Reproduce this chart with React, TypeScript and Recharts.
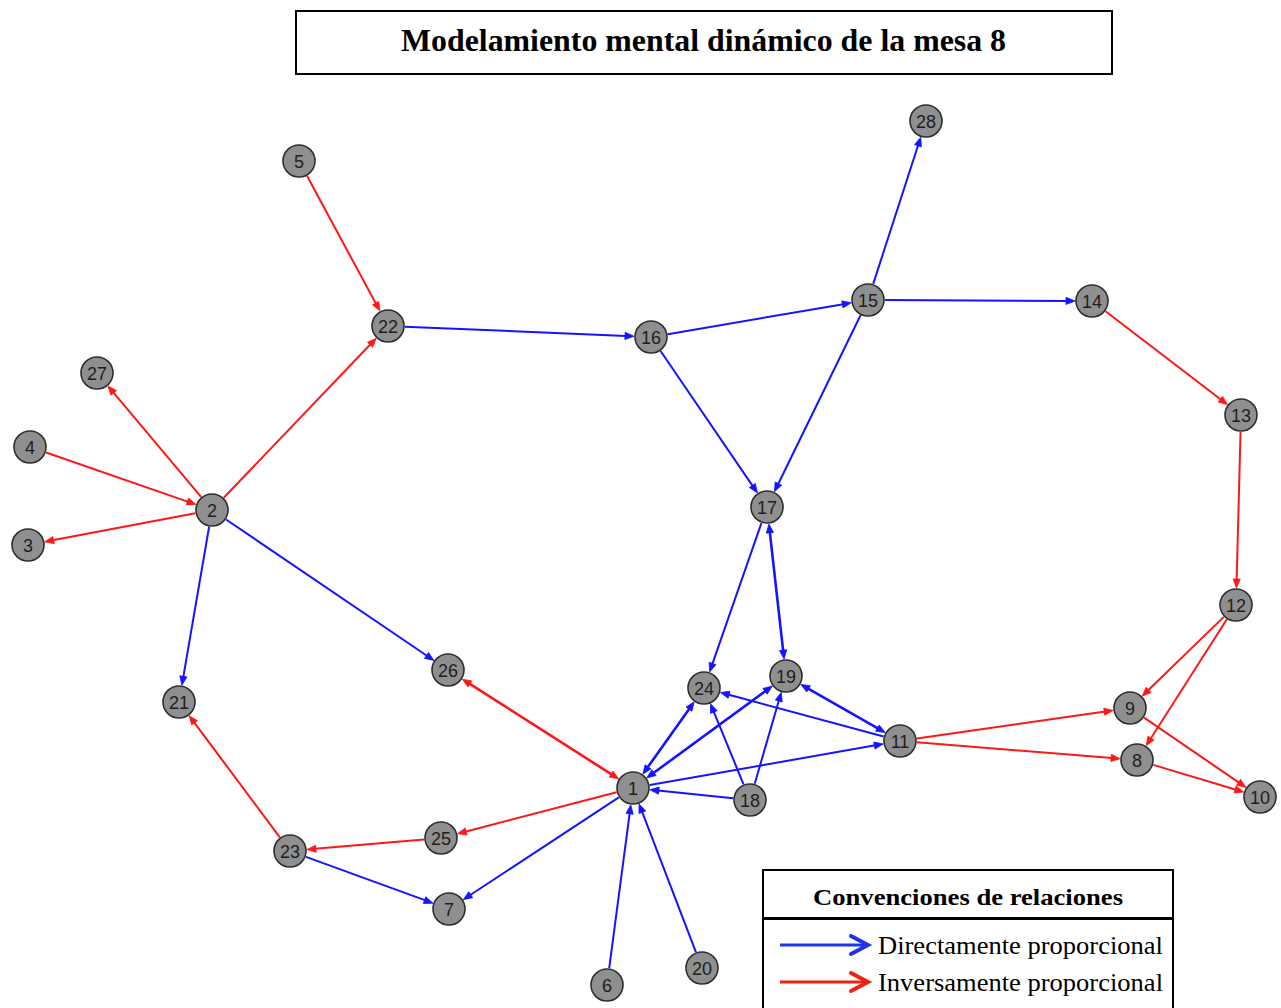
import React from 'react';
import { ScatterChart, Scatter, XAxis, YAxis, ReferenceLine } from 'recharts';

// Node identifiers and their positions (page pixel coordinates)
const nodeIds = ['1', '2', '3', '4', '5', '6', '7', '8', '9', '10', '11', '12', '13', '14', '15', '16', '17', '18', '19', '20', '21', '22', '23', '24', '25', '26', '27', '28'];
const nodeX = [633, 212, 28, 30, 299, 607, 449, 1137, 1130, 1260, 900, 1236, 1241, 1092, 868, 651, 767, 750, 786, 702, 179, 388, 290, 704, 441, 448, 97, 926];
const nodeY = [788, 510, 545, 447, 161, 985, 909, 760, 708, 797, 741, 605, 415, 301, 300, 337, 507, 800, 676, 968, 702, 326, 851, 688, 838, 670, 373, 121];

// Edges: from -> to, kind D = directamente, I = inversamente, both = arrows at both ends
const edgeFrom = ['5', '22', '16', '15', '15', '14', '13', '12', '12', '9', '8', '11', '11', '16', '15', '17', '17', '19', '11', '1', '18', '18', '18', '1', '1', '26', '2', '2', '2', '4', '2', '2', '23', '23', '25', '1', '1', '6', '20'];
const edgeTo = ['22', '16', '15', '28', '14', '13', '12', '9', '8', '10', '10', '9', '8', '17', '17', '24', '19', '11', '24', '11', '1', '24', '19', '24', '19', '1', '26', '22', '27', '2', '3', '21', '21', '7', '23', '25', '7', '1', '1'];
const edgeKind = ['I', 'D', 'D', 'D', 'D', 'I', 'I', 'I', 'I', 'I', 'I', 'I', 'I', 'D', 'D', 'D', 'D', 'D', 'D', 'D', 'D', 'D', 'D', 'D', 'D', 'I', 'D', 'I', 'I', 'I', 'I', 'D', 'I', 'D', 'I', 'I', 'D', 'D', 'D'];
const edgeBoth = [false, false, false, false, false, false, false, false, false, false, false, false, false, false, false, false, true, true, false, false, false, false, false, true, true, true, false, false, false, false, false, false, false, false, false, false, false, false, false];

const titleText = 'Modelamiento mental dinámico de la mesa 8';
const legendTitle = 'Convenciones de relaciones';
const legendLabels = ['Directamente proporcional', 'Inversamente proporcional'];

const BLUE = '#1414ff';
const RED = '#ff1616';

const nodes = nodeIds.map((id, i) => ({ id, x: nodeX[i], y: nodeY[i] }));
const idx = (id: string) => nodeIds.indexOf(id);

const edges = edgeFrom.map((f, i) => ({
  a: nodes[idx(f)],
  b: nodes[idx(edgeTo[i])],
  color: edgeKind[i] === 'D' ? BLUE : RED,
  both: edgeBoth[i],
}));

const R = 17;
const AL = 9;
const AW = 3.6;

const makeEdgeShape = (color: string, both: boolean) => (props: any) => {
  const { x1, y1, x2, y2 } = props;
  const dx = x2 - x1;
  const dy = y2 - y1;
  const len = Math.hypot(dx, dy) || 1;
  const ux = dx / len;
  const uy = dy / len;
  const px = -uy;
  const py = ux;
  const tex = x2 - ux * R;
  const tey = y2 - uy * R;
  const bex = tex - ux * AL;
  const bey = tey - uy * AL;
  let sx = x1 + ux * R;
  let sy = y1 + uy * R;
  const heads: string[] = [
    `${tex},${tey} ${bex + px * AW},${bey + py * AW} ${bex - px * AW},${bey - py * AW}`,
  ];
  if (both) {
    const tsx = sx;
    const tsy = sy;
    const bsx = tsx + ux * AL;
    const bsy = tsy + uy * AL;
    heads.push(`${tsx},${tsy} ${bsx + px * AW},${bsy + py * AW} ${bsx - px * AW},${bsy - py * AW}`);
    sx = bsx - ux * 1;
    sy = bsy - uy * 1;
  }
  return (
    <g>
      <line x1={sx} y1={sy} x2={bex + ux * 1} y2={bey + uy * 1} stroke={color} strokeWidth={both ? 2.6 : 2} />
      {heads.map((p, k) => (
        <polygon key={k} points={p} fill={color} stroke={color} strokeWidth={0.8} strokeLinejoin="miter" />
      ))}
    </g>
  );
};

const NodeShape = (props: any) => {
  const { cx, cy, payload } = props;
  return (
    <g>
      <circle cx={cx} cy={cy} r={16} fill="#8f8f8f" stroke="#2e2e2e" strokeWidth={1.6} />
      <text
        x={cx}
        y={cy + 6.5}
        textAnchor="middle"
        fontFamily="'Liberation Sans', Arial, sans-serif"
        fontSize={18}
        fill="#1e1e1e"
      >
        {payload.id}
      </text>
    </g>
  );
};

const LegendArrow = ({ y, color }: { y: number; color: string }) => (
  <g>
    <line x1={780} y1={y} x2={866} y2={y} stroke={color} strokeWidth={3} />
    <polyline points={`851,${y - 9} 868,${y} 851,${y + 9}`} fill="none" stroke={color} strokeWidth={4} strokeLinecap="round" strokeLinejoin="miter" />
  </g>
);

export default function App() {
  return (
    <div style={{ position: 'fixed', left: 0, top: 0, width: 1281, height: 1008, background: '#fff' }}>
      <ScatterChart width={1281} height={1008} margin={{ top: 0, right: 0, bottom: 0, left: 0 }}>
        <XAxis dataKey="x" type="number" domain={[0, 1281]} hide allowDataOverflow />
        <YAxis dataKey="y" type="number" domain={[0, 1008]} reversed hide allowDataOverflow />
        {edges.map((e, i) => (
          <ReferenceLine
            key={i}
            segment={[{ x: e.a.x, y: e.a.y }, { x: e.b.x, y: e.b.y }]}
            stroke={e.color}
            ifOverflow="visible"
            shape={makeEdgeShape(e.color, e.both)}
          />
        ))}
        <Scatter data={nodes} shape={<NodeShape />} isAnimationActive={false} />
      </ScatterChart>
      <svg
        width={1281}
        height={1008}
        style={{ position: 'absolute', left: 0, top: 0, pointerEvents: 'none' }}
      >
        <rect x={296} y={11} width={816} height={63} fill="#fff" stroke="#000" strokeWidth={2} />
        <text
          x={401}
          y={51}
          textLength={605}
          lengthAdjust="spacingAndGlyphs"
          fontFamily="'Liberation Serif', 'Times New Roman', serif"
          fontWeight="bold"
          fontSize={32}
          fill="#000"
        >
          {titleText}
        </text>

        <rect x={763} y={870} width={410} height={150} fill="#fff" stroke="#000" strokeWidth={2} />
        <line x1={763} y1={918.5} x2={1173} y2={918.5} stroke="#000" strokeWidth={3} />
        <text
          x={813}
          y={905}
          textLength={310}
          lengthAdjust="spacingAndGlyphs"
          fontFamily="'Liberation Serif', 'Times New Roman', serif"
          fontWeight="bold"
          fontSize={24}
          fill="#000"
        >
          {legendTitle}
        </text>
        <LegendArrow y={945} color="#1f35e6" />
        <LegendArrow y={982} color="#ee2410" />
        <text
          x={878}
          y={954}
          textLength={285}
          lengthAdjust="spacingAndGlyphs"
          fontFamily="'Liberation Serif', 'Times New Roman', serif"
          fontSize={25}
          fill="#000"
        >
          {legendLabels[0]}
        </text>
        <text
          x={878}
          y={991}
          textLength={285}
          lengthAdjust="spacingAndGlyphs"
          fontFamily="'Liberation Serif', 'Times New Roman', serif"
          fontSize={25}
          fill="#000"
        >
          {legendLabels[1]}
        </text>
      </svg>
    </div>
  );
}
